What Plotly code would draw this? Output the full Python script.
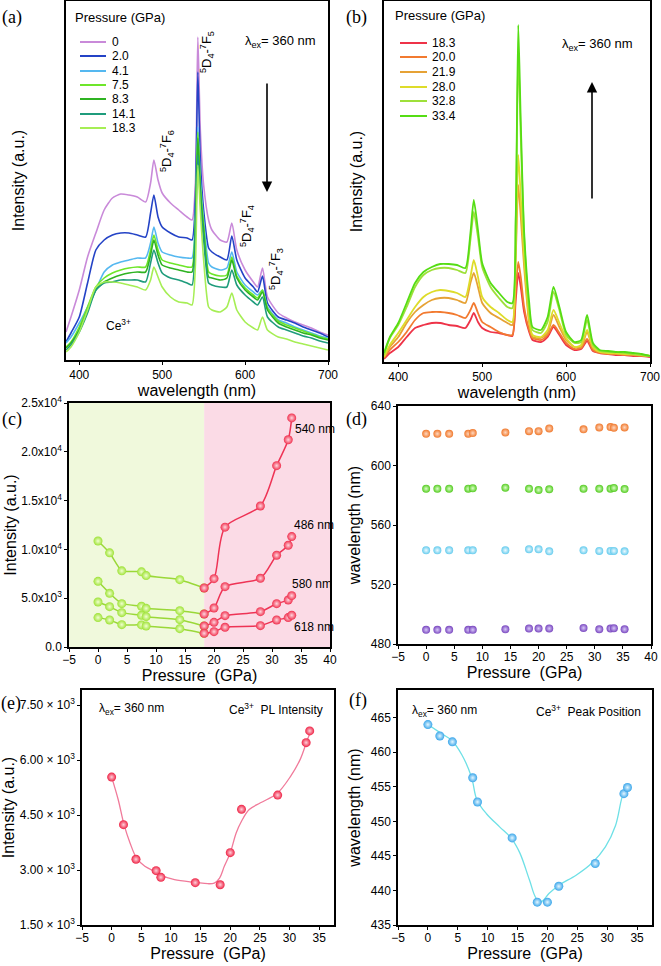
import plotly.graph_objects as go

W, H = 661, 966

# ---------------- data: panel (a) spectra (arbitrary units) ----------------
WL_A = [384, 390, 400, 410, 420, 430, 440, 450, 460, 470, 480, 486, 490, 495, 500, 510, 520, 530, 536,
        540, 543, 546, 550, 556, 560, 570, 578, 584, 590, 600, 610, 615, 621, 627, 640, 650, 660, 670,
        680, 690, 700]
A_LABELS = ["0", "2.0", "4.1", "7.5", "8.3", "14.1", "18.3"]
A_P00 = [28, 43, 70, 103, 127, 150, 162, 166, 165, 163, 158, 177, 200, 180, 167, 157, 150, 143, 140,
         175, 323, 230, 175, 140, 130, 120, 118, 137, 110, 90, 78, 73, 92, 63, 47, 42, 38, 35, 32, 28, 25]
A_P02 = [18, 27, 43, 77, 110, 120, 125, 127, 127, 125, 123, 147, 165, 143, 133, 127, 123, 122, 120,
         160, 288, 200, 150, 112, 108, 103, 100, 124, 100, 82, 73, 68, 84, 57, 43, 40, 37, 33, 30, 27, 23]
A_P04 = [17, 23, 37, 53, 70, 88, 95, 98, 100, 102, 102, 117, 133, 117, 108, 105, 103, 102, 102,
         143, 233, 180, 140, 97, 93, 90, 92, 108, 88, 75, 68, 65, 70, 53, 40, 37, 33, 30, 27, 24, 22]
A_P07 = [13, 18, 33, 53, 73, 82, 87, 90, 92, 93, 93, 110, 125, 110, 100, 97, 95, 93, 93,
         137, 228, 175, 135, 88, 86, 84, 85, 103, 84, 72, 65, 62, 70, 52, 39, 35, 32, 29, 26, 23, 21]
A_P08 = [12, 17, 30, 50, 70, 78, 82, 85, 87, 88, 88, 105, 120, 105, 95, 92, 90, 88, 88,
         133, 222, 170, 130, 83, 82, 80, 82, 100, 82, 70, 63, 60, 68, 50, 37, 33, 30, 27, 25, 22, 20]
A_P14 = [10, 15, 28, 47, 70, 77, 78, 80, 80, 80, 78, 97, 110, 97, 87, 82, 80, 77, 75,
         127, 205, 160, 120, 77, 75, 73, 73, 90, 75, 65, 58, 55, 63, 43, 33, 30, 27, 24, 22, 19, 17]
A_P18 = [8, 13, 28, 50, 73, 78, 78, 77, 75, 73, 70, 80, 93, 83, 73, 63, 58, 57, 55,
         93, 195, 150, 100, 53, 50, 48, 53, 67, 50, 38, 32, 30, 43, 30, 23, 21, 18, 16, 14, 12, 10]

# ---------------- data: panel (b) spectra ----------------
WL_B = [383, 390, 400, 410, 420, 430, 440, 450, 460, 470, 480, 486, 490, 495, 500, 510, 520, 530, 536,
        540, 543, 546, 550, 556, 560, 570, 578, 585, 592, 600, 610, 618, 625, 632, 640, 650, 660, 670,
        680, 690, 700]
B_LABELS = ["18.3", "20.0", "21.9", "28.0", "32.8", "33.4"]
B_P18 = [3, 9, 15, 25, 34, 37, 39, 39, 37, 36, 34, 42, 49, 40, 34, 30, 29, 27, 26,
         62, 89, 75, 50, 30, 22, 20, 25, 35, 27, 17, 12, 13, 21, 11, 9, 8, 7, 7, 6, 6, 5]
B_P20 = [4, 12, 20, 30, 42, 49, 50, 50, 49, 47, 44, 52, 59, 49, 40, 35, 30, 27, 27,
         72, 100, 85, 55, 32, 24, 22, 27, 37, 29, 19, 13, 14, 23, 12, 9, 8, 8, 7, 7, 6, 6]
B_P21 = [5, 15, 25, 39, 50, 57, 62, 64, 64, 62, 59, 79, 89, 75, 59, 49, 44, 39, 37,
         105, 177, 145, 95, 39, 25, 24, 29, 47, 35, 22, 15, 15, 30, 14, 10, 9, 8, 8, 7, 7, 6]
B_P28 = [5, 17, 29, 42, 55, 65, 70, 72, 71, 69, 65, 85, 102, 85, 65, 55, 49, 42, 40,
         112, 207, 165, 105, 42, 27, 25, 32, 52, 39, 24, 15, 17, 32, 15, 10, 9, 9, 8, 8, 7, 6]
B_P32 = [7, 24, 37, 55, 75, 87, 92, 94, 94, 92, 89, 122, 150, 125, 95, 75, 64, 55, 54,
         139, 310, 225, 125, 52, 32, 29, 40, 70, 52, 27, 19, 20, 42, 17, 11, 10, 10, 9, 8, 7, 6]
B_P33 = [9, 25, 39, 59, 79, 90, 95, 98, 98, 97, 94, 129, 162, 132, 99, 79, 69, 60, 59,
         145, 337, 240, 130, 60, 35, 32, 45, 75, 55, 30, 20, 22, 47, 19, 12, 11, 10, 10, 9, 8, 6]

# ---------------- data: panel (c) ----------------
C_P_LOW = [0, 2.0, 4.1, 7.5, 8.3, 14.1, 18.3]
C_P_HIGH = [18.3, 20.0, 21.9, 28.0, 30.8, 32.8, 33.4]
C540_LOW = [10860, 9650, 7800, 7700, 7320, 6900, 6050]
C540_HIGH = [6050, 7000, 12280, 14450, 18580, 21230, 23470]
C486_LOW = [6730, 5500, 4440, 4170, 3960, 3720, 3380]
C486_HIGH = [3380, 4000, 6180, 7040, 9400, 10420, 11310]
C580_LOW = [4610, 4130, 3520, 3250, 3110, 2800, 2150]
C580_HIGH = [2150, 2530, 3210, 3620, 4440, 4820, 5260]
C618_LOW = [3010, 2770, 2290, 2260, 2150, 1880, 1400]
C618_HIGH = [1400, 1570, 2020, 2190, 2770, 3010, 3250]
C_SERIES_LABELS = ["540 nm", "486 nm", "580 nm", "618 nm"]
C_TICKVALS = [0, 5000, 10000, 15000, 20000, 25000]
C_TICKTEXT = ["0.0", "5.0x10<sup>3</sup>", "1.0x10<sup>4</sup>", "1.5x10<sup>4</sup>",
              "2.0x10<sup>4</sup>", "2.5x10<sup>4</sup>"]

# ---------------- data: panel (d) ----------------
D_P = [0, 2.0, 4.1, 7.5, 8.3, 14.1, 18.3, 20.0, 21.9, 28.0, 30.8, 32.8, 33.4, 35.3]
D_620 = [621.3, 621.3, 621.3, 621.3, 621.8, 622.2, 623.1, 623.1, 624.9, 624.3, 625.6, 625.8, 625.4, 625.6]
D_584 = [584.4, 584.4, 584.4, 584.4, 584.7, 585.1, 584.4, 583.5, 584.0, 584.4, 584.4, 584.4, 584.9, 584.2]
D_543 = [543.0, 543.0, 543.0, 543.0, 543.0, 543.0, 543.7, 543.7, 542.3, 543.0, 542.6, 542.6, 542.6, 542.3]
D_489 = [489.5, 489.5, 489.5, 489.5, 489.5, 489.9, 490.4, 490.4, 490.4, 490.8, 489.9, 490.4, 490.6, 489.9]

# ---------------- data: panel (e) ----------------
E_P = [0, 2.0, 4.1, 7.5, 8.3, 14.1, 18.3, 20.0, 21.9, 28.0, 32.8, 33.4]
E_I = [5535, 4236, 3292, 2982, 2800, 2654, 2599, 3474, 4655, 5043, 6474, 6794]
E_FIT_P = [0, 1.1, 2.1, 3.1, 4.2, 5.6, 7.5, 8.4, 10.6, 14.2, 16.2, 17.3, 18.2, 19.0, 20.0, 21.0,
           21.9, 23.2, 25.1, 27.9, 30.2, 31.8, 32.8, 33.5]
E_FIT_I = [5535, 4924, 4230, 3738, 3328, 3100, 2945, 2854, 2735, 2662, 2626, 2644, 2780, 3100, 3465,
           4012, 4331, 4650, 4833, 5088, 5562, 6018, 6456, 6766]
E_TICKVALS = [1500, 3000, 4500, 6000, 7500]
E_TICKTEXT = ["1.50 × 10<sup>3</sup>", "3.00 × 10<sup>3</sup>", "4.50 × 10<sup>3</sup>",
              "6.00 × 10<sup>3</sup>", "7.50 × 10<sup>3</sup>"]

# ---------------- data: panel (f) ----------------
F_P = [0, 2.0, 4.1, 7.5, 8.3, 14.1, 18.3, 20.0, 21.9, 28.0, 32.8, 33.4]
F_W = [464.0, 462.35, 461.5, 456.3, 452.8, 447.6, 438.3, 438.3, 440.6, 443.9, 454.0, 454.9]
F_FIT_P = [0, 2.1, 4.0, 5.7, 7.3, 8.2, 9.8, 12.0, 14.0, 15.4, 17.0, 18.1, 19.0, 20.3, 22.0, 24.8,
           27.5, 29.7, 31.4, 32.5, 33.3]
F_FIT_W = [464.0, 462.8, 461.7, 459.6, 456.4, 453.1, 451.1, 449.2, 447.5, 445.4, 441.5, 438.9, 438.4,
           439.6, 440.8, 442.2, 444.0, 446.3, 449.4, 453.5, 455.1]

# ---------------- styles ----------------
FONT = "Liberation Sans, Arial, sans-serif"
SERIF = "Liberation Serif, Times New Roman, serif"
A_COLORS = ["#c98ad9", "#2443c6", "#55b8f0", "#6ee62a", "#2fb322", "#1f9c7c", "#a6ee55"]
B_COLORS = ["#ee3348", "#f27a30", "#e6a235", "#dedc2a", "#9ee03a", "#55dd14"]
C_GREEN_LINE, C_GREEN_MK = "#9ad838", "#9ee236"
C_RED_LINE, C_RED_MK = "#ee3355", "#f0304e"
D_COLORS = ["#f07a2e", "#55cc22", "#66ccee", "#7a48c0"]
TICK_SIZE = 12
TITLE_SIZE = 16


def pxx(x):
    return x / W


def pxy(y):
    return 1 - y / H


fig = go.Figure()

A_SERIES = [A_P00, A_P02, A_P04, A_P07, A_P08, A_P14, A_P18]
for lab, vals, col in zip(A_LABELS, A_SERIES, A_COLORS):
    fig.add_trace(go.Scatter(x=WL_A, y=vals, mode="lines", name=lab, xaxis="x", yaxis="y",
                             line=dict(color=col, width=1.6, shape="spline", smoothing=0.6)))

B_SERIES = [B_P18, B_P20, B_P21, B_P28, B_P32, B_P33]
for lab, vals, col in zip(B_LABELS, B_SERIES, B_COLORS):
    fig.add_trace(go.Scatter(x=WL_B, y=vals, mode="lines", name=lab, xaxis="x2", yaxis="y2",
                             line=dict(color=col, width=1.8, shape="spline", smoothing=0.6)))


def ball(color, center, size):
    return dict(color=color, size=size, gradient=dict(type="radial", color=center), line=dict(width=0))


# panel (c)
for lo, hi, lab in zip([C540_LOW, C486_LOW, C580_LOW, C618_LOW],
                       [C540_HIGH, C486_HIGH, C580_HIGH, C618_HIGH], C_SERIES_LABELS):
    fig.add_trace(go.Scatter(x=C_P_LOW, y=lo, mode="lines+markers", name=lab, xaxis="x3", yaxis="y3",
                             line=dict(color=C_GREEN_LINE, width=1.5, shape="spline", smoothing=0.5),
                             marker=ball(C_GREEN_MK, "#f0ffd0", 9)))
    fig.add_trace(go.Scatter(x=C_P_HIGH, y=hi, mode="lines+markers", name=lab, xaxis="x3", yaxis="y3",
                             line=dict(color=C_RED_LINE, width=1.5, shape="spline", smoothing=0.8),
                             marker=ball(C_RED_MK, "#ffd6de", 9)))

# panel (d)
for vals, col, cen in zip([D_620, D_584, D_543, D_489], D_COLORS,
                          ["#ffd8c0", "#dcffc8", "#eefaff", "#d8c8f8"]):
    fig.add_trace(go.Scatter(x=D_P, y=vals, mode="markers", xaxis="x4", yaxis="y4",
                             marker=ball(col, cen, 8)))

# panel (e)
fig.add_trace(go.Scatter(x=E_FIT_P, y=E_FIT_I, mode="lines", xaxis="x5", yaxis="y5",
                         line=dict(color="#f07a9a", width=1.3, shape="spline", smoothing=1.0)))
fig.add_trace(go.Scatter(x=E_P, y=E_I, mode="markers", xaxis="x5", yaxis="y5",
                         marker=ball("#ee2244", "#ffd0da", 9)))

# panel (f)
fig.add_trace(go.Scatter(x=F_FIT_P, y=F_FIT_W, mode="lines", xaxis="x6", yaxis="y6",
                         line=dict(color="#6ee0e6", width=1.3, shape="spline", smoothing=1.0)))
fig.add_trace(go.Scatter(x=F_P, y=F_W, mode="markers", xaxis="x6", yaxis="y6",
                         marker=ball("#3aa6ea", "#e4f6ff", 9)))


# ---------------- axes ----------------
def xax(dom, rng, title, tickvals=None, dtick=None, lab_off=0):
    d = dict(domain=[pxx(dom[0]), pxx(dom[1])], range=rng, showline=True, linecolor="black",
             linewidth=1.5, mirror=True, ticks="outside", ticklen=3, tickcolor="black",
             showgrid=False, zeroline=False, automargin=False, ticklabelstandoff=lab_off,
             ticklabeloverflow="allow",
             tickfont=dict(family=FONT, size=TICK_SIZE, color="black"),
             title=dict(text=title, font=dict(family=FONT, size=TITLE_SIZE, color="black"), standoff=0))
    if tickvals is not None:
        d["tickmode"] = "array"
        d["tickvals"] = tickvals
    if dtick is not None:
        d["dtick"] = dtick
        d["tick0"] = 0
    return d


def yax(dom, rng, title, standoff, showlabels=True, tickvals=None, ticktext=None):
    d = dict(domain=[pxy(dom[1]), pxy(dom[0])], range=rng, showline=True, linecolor="black",
             linewidth=1.5, mirror=True, showgrid=False, zeroline=False, automargin=False,
             ticklabeloverflow="allow",
             tickfont=dict(family=FONT, size=TICK_SIZE, color="black"),
             title=dict(text=title, font=dict(family=FONT, size=TITLE_SIZE, color="black"), standoff=standoff))
    if showlabels:
        d.update(ticks="outside", ticklen=3, tickcolor="black")
    else:
        d.update(ticks="", showticklabels=False)
    if tickvals is not None:
        d.update(tickmode="array", tickvals=tickvals)
        if ticktext is not None:
            d["ticktext"] = ticktext
    return d


P_TICKS = [-5, 0, 5, 10, 15, 20, 25, 30, 35]
layout_axes = dict(
    xaxis=xax((66, 328), [384, 700], "wavelength (nm)", tickvals=[400, 500, 600, 700], lab_off=0),
    yaxis=yax((1, 360), [0, 359], "Intensity (a.u.)", 36, showlabels=False),
    xaxis2=xax((384, 650), [383, 700], "wavelength (nm)", tickvals=[400, 500, 600, 700], lab_off=0),
    yaxis2=yax((1, 362), [0, 361], "Intensity (a.u.)", 16, showlabels=False),
    xaxis3=xax((69, 330), [-5, 40], "Pressure\u00a0 (GPa)", dtick=5, lab_off=-2),
    yaxis3=yax((403, 647), [0, 25000], "Intensity (a.u.)", 1, tickvals=C_TICKVALS, ticktext=C_TICKTEXT),
    xaxis4=xax((398, 651), [-5, 40], "Pressure\u00a0 (GPa)", dtick=5, lab_off=-2),
    yaxis4=yax((406, 644), [480, 640], "wavelength (nm)", 6, tickvals=[480, 520, 560, 600, 640]),
    xaxis5=xax((82, 334), [-5, 37.5], "Pressure\u00a0 (GPa)", tickvals=P_TICKS, lab_off=-2),
    yaxis5=yax((690, 925), [1500, 7910], "Intensity (a.u.)", 1, tickvals=E_TICKVALS, ticktext=E_TICKTEXT),
    xaxis6=xax((398, 652), [-5, 37.5], "Pressure\u00a0 (GPa)", tickvals=P_TICKS, lab_off=-2),
    yaxis6=yax((690, 925), [435, 469], "wavelength (nm)", 6, tickvals=[435, 440, 445, 450, 455, 460, 465]),
)
for k in ["xaxis", "xaxis2", "xaxis3", "xaxis4", "xaxis5", "xaxis6"]:
    layout_axes[k]["anchor"] = "y" + k[5:]
for k in ["yaxis", "yaxis2", "yaxis3", "yaxis4", "yaxis5", "yaxis6"]:
    layout_axes[k]["anchor"] = "x" + k[5:]

# ---------------- shapes (backgrounds, legend swatches) ----------------
shapes = [
    dict(type="rect", xref="x3", yref="y3", x0=-5, x1=18.3, y0=0, y1=25000, fillcolor="#f0f9dc",
         line=dict(width=0), layer="below"),
    dict(type="rect", xref="x3", yref="y3", x0=18.3, x1=40, y0=0, y1=25000, fillcolor="#fbdbe6",
         line=dict(width=0), layer="below"),
]

annotations = []


def text(x, y, s, size=13, xanchor="left", family=FONT, angle=0):
    annotations.append(dict(x=pxx(x), y=pxy(y), xref="paper", yref="paper", text=s, showarrow=False,
                            xanchor=xanchor, yanchor="middle", textangle=angle,
                            font=dict(family=family, size=size, color="black")))


# custom legends
A_ROWS = [42, 56, 71, 85, 99, 114, 128]
for lab, col, yy in zip(A_LABELS, A_COLORS, A_ROWS):
    shapes.append(dict(type="line", xref="paper", yref="paper", x0=pxx(80), x1=pxx(106), y0=pxy(yy),
                       y1=pxy(yy), line=dict(color=col, width=2)))
    text(110, yy, lab, size=12)
B_ROWS = [43, 57, 72, 87, 101, 116]
for lab, col, yy in zip(B_LABELS, B_COLORS, B_ROWS):
    shapes.append(dict(type="line", xref="paper", yref="paper", x0=pxx(400), x1=pxx(427), y0=pxy(yy),
                       y1=pxy(yy), line=dict(color=col, width=2)))
    text(430, yy, lab, size=12)

text(73, 17, "Pressure (GPa)", size=13)
text(393, 16, "Pressure (GPa)", size=13)
text(243, 42, "λ<sub>ex</sub>= 360 nm", size=13)
text(560, 44, "λ<sub>ex</sub>= 360 nm", size=13)

PEAK_LABELS = ["<sup>5</sup>D<sub>4</sub>-<sup>7</sup>F<sub>5</sub>", "<sup>5</sup>D<sub>4</sub>-<sup>7</sup>F<sub>6</sub>",
               "<sup>5</sup>D<sub>4</sub>-<sup>7</sup>F<sub>4</sub>", "<sup>5</sup>D<sub>4</sub>-<sup>7</sup>F<sub>3</sub>"]
for lab, (xx, yy) in zip(PEAK_LABELS, [(207, 52), (167, 151), (247, 226), (276, 269)]):
    annotations.append(dict(x=pxx(xx), y=pxy(yy), xref="paper", yref="paper", text=lab, showarrow=False,
                            textangle=-90, xanchor="center", yanchor="middle",
                            font=dict(family=FONT, size=13, color="black")))
text(118, 325, "Ce<sup>3+</sup>", size=12, xanchor="center")

# arrows
annotations.append(dict(x=pxx(267), y=pxy(192), xref="paper", yref="paper", ax=0, ay=-110, text="",
                        showarrow=True, arrowhead=2, arrowsize=1.3, arrowwidth=1.6, arrowcolor="black"))
annotations.append(dict(x=pxx(592), y=pxy(82), xref="paper", yref="paper", ax=0, ay=118, text="",
                        showarrow=True, arrowhead=2, arrowsize=1.3, arrowwidth=1.6, arrowcolor="black"))

# (c) series labels
for lab, (xx, yy) in zip(C_SERIES_LABELS, [(293, 429), (292, 525), (290, 584), (292, 627)]):
    text(xx, yy, lab, size=12)

# (e)/(f) labels
text(97, 709, "λ<sub>ex</sub>= 360 nm", size=12)
text(325, 709, "Ce<sup>3+</sup>\u00a0 PL Intensity", size=12, xanchor="right")
text(410, 711, "λ<sub>ex</sub>= 360 nm", size=12)
text(643, 711, "Ce<sup>3+</sup>\u00a0 Peak Position", size=12, xanchor="right")

# panel letters
for lab, (xx, yy) in zip(["(a)", "(b)", "(c)", "(d)", "(e)", "(f)"],
                         [(12, 17), (357, 17), (12, 419), (357, 420), (11, 703), (358, 700)]):
    text(xx, yy, lab, size=18, xanchor="center", family=SERIF)

fig.update_layout(
    width=W, height=H, margin=dict(l=0, r=0, t=0, b=0),
    paper_bgcolor="white", plot_bgcolor="white", showlegend=False,
    font=dict(family=FONT, color="black"),
    shapes=shapes, annotations=annotations,
    **layout_axes,
)

fig.write_html("out.html", config={"displayModeBar": False},
               post_script="document.body.style.margin='0';")
